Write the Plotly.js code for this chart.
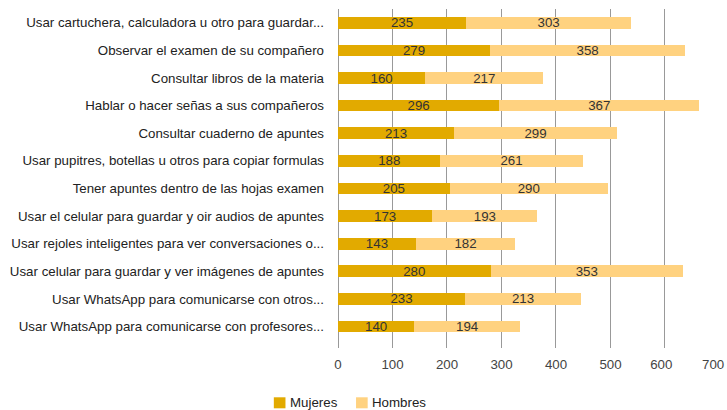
<!DOCTYPE html>
<html><head><meta charset="utf-8">
<script src="https://cdn.plot.ly/plotly-3.0.1.min.js"></script>
<style>html,body{margin:0;padding:0;background:#fff;}#chart{width:727px;height:410px;}</style>
</head><body><div id="chart"></div>
<script>
var categories = [
  "Usar cartuchera, calculadora u otro para guardar...",
  "Observar el examen de su compañero",
  "Consultar libros de la materia",
  "Hablar o hacer señas a sus compañeros",
  "Consultar cuaderno de apuntes",
  "Usar pupitres, botellas u otros para copiar formulas",
  "Tener apuntes dentro de las hojas examen",
  "Usar el celular para guardar y oir audios de apuntes",
  "Usar rejoles inteligentes para ver conversaciones o...",
  "Usar celular para guardar y ver imágenes de apuntes",
  "Usar WhatsApp para comunicarse con otros...",
  "Usar WhatsApp para comunicarse con profesores..."
];
var mujeres = [235, 279, 160, 296, 213, 188, 205, 173, 143, 280, 233, 140];
var hombres = [303, 358, 217, 367, 299, 261, 290, 193, 182, 353, 213, 194];
var tickVals = [0, 100, 200, 300, 400, 500, 600, 700];
var tickText = ["0", "100", "200", "300", "400", "500", "600\u00a0\u00a0", "700"];
var seriesNames = ['Mujeres', 'Hombres'];
var seriesColors = ['#E2AA00', '#FFD280'];

var FONT = 'Liberation Sans, Arial, sans-serif';
var common = {type: 'bar', orientation: 'h', y: categories, textposition: 'inside',
  insidetextanchor: 'middle', constraintext: 'none',
  textfont: {family: FONT, size: 13.3, color: '#333'},
  hoverinfo: 'none', cliponaxis: false, showlegend: false};
var t1 = Object.assign({}, common, {name: seriesNames[0], x: mujeres, text: mujeres.map(String), marker: {color: seriesColors[0]}});
var t2 = Object.assign({}, common, {name: seriesNames[1], x: hombres, text: hombres.map(String), marker: {color: seriesColors[1]}});

// custom legend (layout decoration, paper coordinates)
var legX = [-0.168, 0.0472];
var shapes = [], annotations = [];
for (var i = 0; i < seriesNames.length; i++) {
  shapes.push({type: 'rect', xref: 'paper', yref: 'paper', x0: legX[i], x1: legX[i] + 0.0305,
    y0: -0.1454, y1: -0.1779, fillcolor: seriesColors[i], line: {width: 0}});
  annotations.push({xref: 'paper', yref: 'paper', x: legX[i] + 0.036, y: -0.1622, xanchor: 'left', yanchor: 'middle',
    text: seriesNames[i], showarrow: false, font: {family: FONT, size: 13.3, color: '#222'}});
}
// last tick label drawn as annotation, nudged left to stay inside the page (like the reference)
var lastTick = tickVals[tickVals.length - 1];
annotations.push({xref: 'x', yref: 'paper', x: lastTick, y: 0, xanchor: 'right', yanchor: 'middle',
  xshift: 7, yshift: -16, text: tickText[tickText.length - 1], showarrow: false,
  font: {family: FONT, size: 13.3, color: '#444'}});
var shownTickText = tickText.slice(0, -1).concat([""]);

var layout = {
  width: 727, height: 410, barmode: 'stack', bargap: 0.576,
  margin: {l: 338, r: 7, t: 9, b: 62},
  paper_bgcolor: '#fff', plot_bgcolor: '#fff',
  font: {family: FONT, size: 13.3, color: '#222'},
  xaxis: {range: [0, 701], tickvals: tickVals, ticktext: shownTickText, showgrid: true, gridcolor: '#999',
    gridwidth: 1, zeroline: true, zerolinecolor: '#999', zerolinewidth: 1, showline: false, ticks: '',
    ticklabeloverflow: 'allow', ticklabelstandoff: 7, tickfont: {size: 13.3, color: '#444'},
    fixedrange: true, automargin: false},
  yaxis: {range: [11.78, -0.5], ticks: '', showgrid: false, zeroline: false, showline: false,
    ticklabelstandoff: 13, tickfont: {size: 13.3, color: '#222'}, automargin: false},
  showlegend: false,
  shapes: shapes, annotations: annotations
};
Plotly.newPlot('chart', [t1, t2], layout, {staticPlot: true, displayModeBar: false});
</script></body></html>
